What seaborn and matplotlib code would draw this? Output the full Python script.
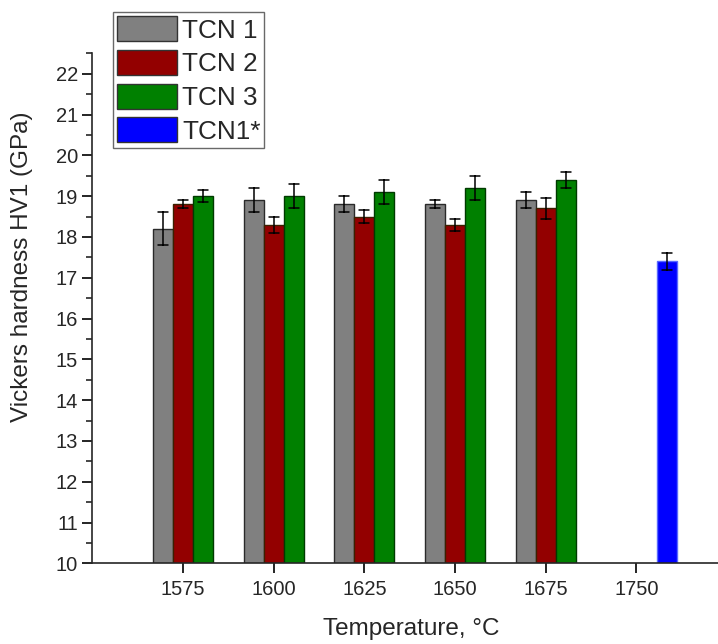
import pandas as pd
import numpy as np
import seaborn as sns
import matplotlib.pyplot as plt
import matplotlib as mpl
import matplotlib.transforms as mtransforms
from matplotlib.patches import Patch
from matplotlib.ticker import MultipleLocator

temps = ['1575', '1600', '1625', '1650', '1675', '1750']
tcn1 = [18.2, 18.9, 18.8, 18.8, 18.9]
tcn1_err = [0.4, 0.3, 0.2, 0.1, 0.2]
tcn2 = [18.8, 18.3, 18.5, 18.3, 18.7]
tcn2_err = [0.1, 0.2, 0.15, 0.15, 0.25]
tcn3 = [19.0, 19.0, 19.1, 19.2, 19.4]
tcn3_err = [0.15, 0.3, 0.3, 0.3, 0.2]
tcn1s = [17.4]
tcn1s_err = [0.2]

samples = ['TCN 1', 'TCN 2', 'TCN 3', 'TCN1*']
colors = ['#808080', '#930000', '#008000', '#0000ff']
edges = ['#2a2a2a', '#3d2000', '#003a00', '#5a6aff']


# two rows per bar (value - err, value + err) so mean = value and min/max = error bar
def rows(name, xs, vals, errs):
    out = []
    for t, v, e in zip(xs, vals, errs):
        out.append({'temp': t, 'sample': name, 'hv': v - e})
        out.append({'temp': t, 'sample': name, 'hv': v + e})
    return out


main = rows('TCN 1', temps[:5], tcn1, tcn1_err) + rows('TCN 2', temps[:5], tcn2, tcn2_err) \
    + rows('TCN 3', temps[:5], tcn3, tcn3_err)
df = pd.DataFrame(main)
df_star = pd.DataFrame(rows('TCN1*', temps[5:], tcn1s, tcn1s_err))

sns.set_style("ticks")
plt.rcParams['font.family'] = ['Liberation Sans', 'DejaVu Sans']

fig = plt.figure(figsize=(7.18, 6.44), dpi=100)
ax = fig.add_axes([0.1286, 0.1253, 0.8714, 0.7919])

err_kws = {'color': 'black', 'linewidth': 1.1}
sns.barplot(data=df, x='temp', y='hv', hue='sample', order=temps, hue_order=samples[:3],
            palette=colors[:3], width=0.66, errorbar=('pi', 100), capsize=0.33,
            err_kws=err_kws, saturation=1, legend=False, ax=ax)
n_patches = len(ax.patches)
n_lines = len(ax.lines)

# TCN1* sits in the slot right of the TCN 3 bars, as in the original
sns.barplot(data=df_star, x='temp', y='hv', order=temps, color=colors[3],
            width=0.22, errorbar=('pi', 100), capsize=0.11,
            err_kws=err_kws, saturation=1, ax=ax)
shift = mtransforms.Affine2D().translate(0.34, 0) + ax.transData
for p in ax.patches[n_patches:]:
    p.set_transform(shift)
for ln in ax.lines[n_lines:]:
    ln.set_transform(shift)

for cont, ec in zip(ax.containers, edges):
    for p in cont:
        p.set_edgecolor(ec)
        p.set_linewidth(1.0)

ax.set_ylim(10, 22.5)
ax.set_xlim(-1.0, 5.9)
ax.yaxis.set_major_locator(MultipleLocator(1))
ax.yaxis.set_minor_locator(MultipleLocator(0.5))
sns.despine(ax=ax)
for s in ['left', 'bottom']:
    ax.spines[s].set_linewidth(1.2)
ax.tick_params(axis='both', which='major', labelsize=14.5, width=1.2, length=7, color='black')
ax.tick_params(axis='y', which='minor', width=1.2, length=4)
ax.tick_params(axis='x', which='major', length=7, pad=5)

ax.set_xlabel('Temperature, °C', fontsize=17.5)
ax.set_ylabel('Vickers hardness HV1 (GPa)', fontsize=17.5)
ax.xaxis.set_label_coords(0.509, -0.107)
ax.yaxis.set_label_coords(-0.095, 0.581)

handles = [Patch(facecolor=c, edgecolor='#333333', linewidth=1.0) for c in colors]
leg = fig.legend(handles, samples, loc='upper left', bbox_to_anchor=(0.157, 0.981),
                 fontsize=18.8, frameon=True, fancybox=False, edgecolor='#444444',
                 handlelength=2.3, handleheight=1.1, labelspacing=0.28,
                 handletextpad=0.2, borderpad=0.15, borderaxespad=0)
leg.get_frame().set_linewidth(1.0)

plt.savefig('out.png', dpi=100)
